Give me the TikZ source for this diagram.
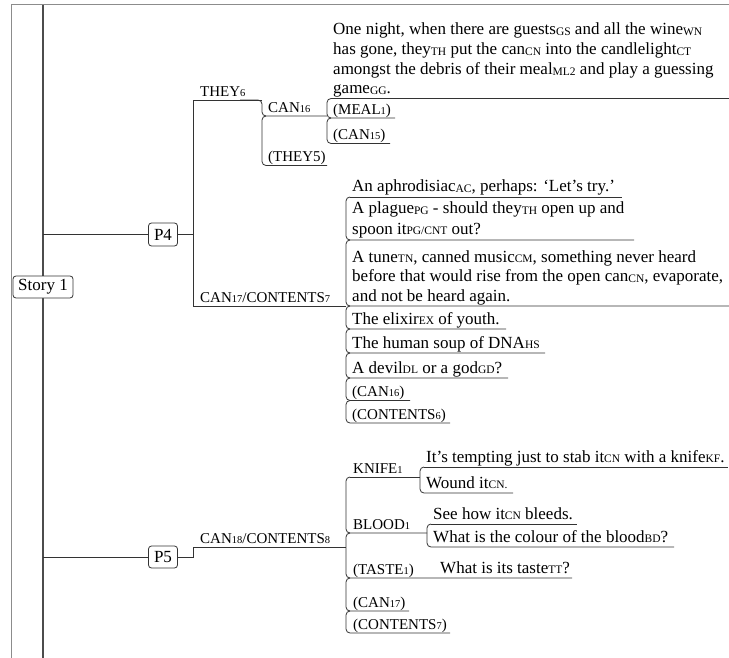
\documentclass[tikz,border=0pt]{standalone}
\usepackage{fontspec}
\setmainfont{Liberation Serif}
% small index letters set after a word
\newcommand\ix[1]{\raisebox{-0.6pt}{\fontsize{11.5}{11.5}\selectfont #1}}
% small numbers after a label
\newcommand\nx[1]{{\fontsize{10.5}{10.5}\selectfont #1}}
\tikzset{
  ln/.style={draw=black!80, line width=0.8pt},
  brk/.style={ln, rounded corners=4pt},
  frame/.style={draw=black!45, line width=1pt},
  spine/.style={draw=black!70, line width=1.6pt},
  txt/.style={anchor=base west, inner sep=0pt, font=\fontsize{17}{17}\selectfont},
  lbl/.style={anchor=base west, inner sep=0pt, font=\fontsize{15}{15}\selectfont},
  topic/.style={draw=black!80, line width=0.8pt, rounded corners=3pt, fill=white,
    inner sep=0pt, minimum height=22pt, font=\fontsize{17}{17}\selectfont}
}
\begin{document}
\begin{tikzpicture}[x=1pt,y=-1pt]
\useasboundingbox (0,0) rectangle (729,658);
\fill[white] (0,0) rectangle (729,658);

% page frame and main spine
\draw[frame] (11,658) -- (11,5) -- (729,5);
\draw[spine] (43,5) -- (43,658);

% topics
\node[topic, minimum width=29pt, minimum height=23pt] (P4) at (163,234.5) {P4};
\node[topic, minimum width=29pt] (P5) at (163,557) {P5};
\draw[ln] (43,234.5) -- (P4.west);
\draw[ln] (43,557) -- (P5.west);
\node[topic, minimum width=60pt] (story) at (43,287) {Story 1};

% ---- P4 branch
\coordinate (p4a) at (193,234.5);
\draw[ln] (P4.east) -- (p4a);
\draw[ln] (262,100) -- (193,100) -- (193,306) -- (346,306);
\node[lbl] (they6) at (200,96.5) {THEY\nx{6}};
\node[lbl] (can17) at (200,302) {CAN\nx{17}/CONTENTS\nx{7}};

% THEY6 children
\draw[brk] (240,100) -- (262,100) -- (262,116) -- (327,116);
\draw[brk] (266,116) -- (262,116) -- (262,165.5) -- (327,165.5);
\node[lbl] (can16) at (268,112.5) {CAN\nx{16}};
\node[lbl] (they5) at (268,161.5) {(THEY5)};

% CAN16 children
\draw[ln] (331,98.5) -- (729,98.5);
\draw[brk] (331,98.5) -- (327,98.5) -- (327,118) -- (395,118);
\draw[brk] (331,118) -- (327,118) -- (327,143.5) -- (390,143.5);
\node[txt] (g1) at (333,35) {One night, when there are guests\ix{GS} and all the wine\ix{WN}};
\node[txt] (g2) at (333,55) {has gone, they\ix{TH} put the can\ix{CN} into the candlelight\ix{CT}};
\node[txt] (g3) at (333,75) {amongst the debris of their meal\ix{ML2} and play a guessing};
\node[txt] (g4) at (333,94) {game\ix{GG}.};
\node[lbl] (meal1) at (333,114.5) {(MEAL\nx{1})};
\node[lbl] (can15) at (333,139.5) {(CAN\nx{15})};

% CAN17/CONTENTS7 children
\draw[ln] (350,197) -- (622,197);
\draw[brk] (350,197) -- (346,197) -- (346,240) -- (634,240);
\draw[brk] (350,240) -- (346,240) -- (346,306) -- (729,306);
\draw[brk] (350,306) -- (346,306) -- (346,329) -- (506,329);
\draw[brk] (350,329) -- (346,329) -- (346,353) -- (545,353);
\draw[brk] (350,353) -- (346,353) -- (346,378) -- (508,378);
\draw[brk] (350,378) -- (346,378) -- (346,400.5) -- (410,400.5);
\draw[brk] (350,400.5) -- (346,400.5) -- (346,423) -- (450,423);
\node[txt] (c1) at (352,192) {An aphrodisiac\ix{AC}, perhaps: ‘Let’s try.’};
\node[txt] (c2a) at (352,214) {A plague\ix{PG} - should they\ix{TH} open up and};
\node[txt] (c2b) at (352,234) {spoon it\ix{PG/CNT} out?};
\node[txt] (c3a) at (352,262) {A tune\ix{TN}, canned music\ix{CM}, something never heard};
\node[txt] (c3b) at (352,281.5) {before that would rise from the open can\ix{CN}, evaporate,};
\node[txt] (c3c) at (352,301) {and not be heard again.};
\node[txt] (c4) at (352,324) {The elixir\ix{EX} of youth.};
\node[txt] (c5) at (352,348) {The human soup of DNA\ix{HS}};
\node[txt] (c6) at (352,373) {A devil\ix{DL} or a god\ix{GD}?};
\node[lbl] (c7) at (352,396.5) {(CAN\nx{16})};
\node[lbl] (c8) at (352,419) {(CONTENTS\nx{6})};

% ---- P5 branch
\draw[ln] (P5.east) -- (193,557) -- (193,547) -- (346,547);
\node[lbl] (can18) at (200,543) {CAN\nx{18}/CONTENTS\nx{8}};

\draw[ln] (350,477) -- (420,477);
\draw[brk] (350,477) -- (346,477) -- (346,533) -- (427,533);
\draw[brk] (350,533) -- (346,533) -- (346,578) -- (572,578);
\draw[brk] (350,578) -- (346,578) -- (346,611) -- (409,611);
\draw[brk] (350,611) -- (346,611) -- (346,633) -- (450,633);
\node[lbl] (knife) at (353,473) {KNIFE\nx{1}};
\node[lbl] (blood) at (353,529) {BLOOD\nx{1}};
\node[lbl] (taste) at (353,574.5) {(TASTE\nx{1})};
\node[lbl] (can17b) at (353,607) {(CAN\nx{17})};
\node[lbl] (cont7) at (353,629.5) {(CONTENTS\nx{7})};

% KNIFE1 children
\draw[ln] (424,467) -- (728,467);
\draw[brk] (424,467) -- (420,467) -- (420,493) -- (513,493);
\node[txt] (k1) at (426,462) {It’s tempting just to stab it\ix{CN} with a knife\ix{KF}.};
\node[txt] (k2) at (426,488) {Wound it\ix{CN.}};

% BLOOD1 children
\draw[ln] (431,524) -- (577,524);
\draw[brk] (431,524) -- (427,524) -- (427,547) -- (674,547);
\node[txt] (b1) at (433,519) {See how it\ix{CN} bleeds.};
\node[txt] (b2) at (433,542) {What is the colour of the blood\ix{BD}?};

% TASTE1 child
\node[txt] (t1) at (440,573) {What is its taste\ix{TT}?};
\end{tikzpicture}
\end{document}
